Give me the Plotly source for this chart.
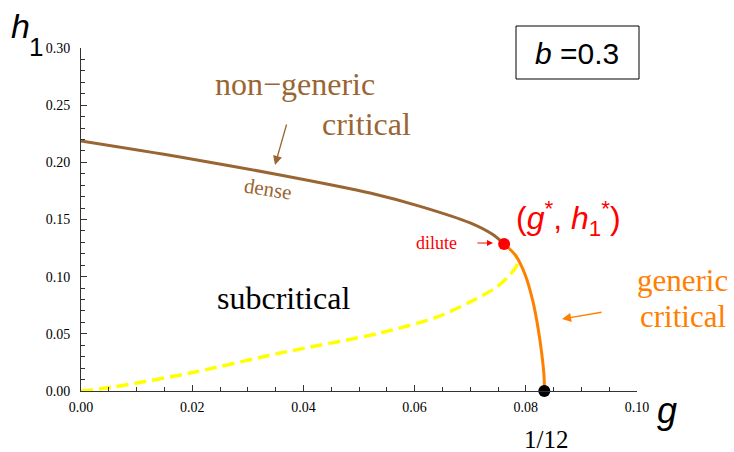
import plotly.graph_objects as go

# ---- data ----
dense_g = [0.0, 0.0178, 0.0358, 0.0520, 0.0610, 0.0700, 0.0740, 0.0761]
dense_h = [0.2187, 0.2047, 0.1890, 0.1732, 0.1615, 0.1470, 0.1370, 0.1286]

generic_g = [0.0761, 0.0781, 0.0799, 0.0813, 0.0822, 0.0829, 0.0833, 1 / 12]
generic_h = [0.1286, 0.1190, 0.1015, 0.0779, 0.0551, 0.0315, 0.0114, 0.0]

sub_g = [0.0, 0.0058, 0.0196, 0.0358, 0.0538, 0.0640, 0.0700, 0.0748, 0.0772, 0.0783, 0.0785, 0.0782]
sub_h = [0.0, 0.0035, 0.0157, 0.0332, 0.0507, 0.0647, 0.0779, 0.0910, 0.1020, 0.1090, 0.1140, 0.1185]

tri_g = [0.0761]
tri_h = [0.1286]
end_g = [1 / 12]
end_h = [0.0]

x_ticks = [0.00, 0.02, 0.04, 0.06, 0.08, 0.10]
x_ticklabels = ["0.00", "0.02", "0.04", "0.06", "0.08", "0.10"]
y_ticks = [0.00, 0.05, 0.10, 0.15, 0.20, 0.25, 0.30]
y_ticklabels = ["0.00", "0.05", "0.10", "0.15", "0.20", "0.25", "0.30"]

BROWN = "#996633"
ORANGE = "#FF8000"
YELLOW = "#FFFF00"
RED = "#FF0000"
SERIF = "Liberation Serif, Times New Roman, serif"
SANS = "Liberation Sans, Arial, sans-serif"

W, H = 734, 452
L, R, T, B = 81, 97, 48, 61
PW, PH = W - L - R, H - T - B


def px(x):
    return (x - L) / PW


def py(y):
    return (H - B - y) / PH


fig = go.Figure()
fig.add_trace(go.Scatter(x=sub_g, y=sub_h, mode="lines",
                         line=dict(color=YELLOW, width=3.5, dash="12px,6px", shape="spline", smoothing=0.8),
                         hoverinfo="skip"))
fig.add_trace(go.Scatter(x=dense_g, y=dense_h, mode="lines",
                         line=dict(color=BROWN, width=3, shape="spline", smoothing=0.8), hoverinfo="skip"))
fig.add_trace(go.Scatter(x=generic_g, y=generic_h, mode="lines",
                         line=dict(color=ORANGE, width=3, shape="spline", smoothing=0.8), hoverinfo="skip"))
fig.add_trace(go.Scatter(x=tri_g, y=tri_h, mode="markers",
                         marker=dict(color=RED, size=12), cliponaxis=False, hoverinfo="skip"))
fig.add_trace(go.Scatter(x=end_g, y=end_h, mode="markers",
                         marker=dict(color="black", size=12), cliponaxis=False, hoverinfo="skip"))

axis_common = dict(showgrid=False, zeroline=False, showline=True, linecolor="#333333",
                   linewidth=1, ticks="inside", ticklen=6, tickcolor="#333333", tickwidth=1,
                   tickfont=dict(family=SERIF, size=14, color="black"), automargin=False)

fig.update_xaxes(range=[0, 0.1], tickvals=x_ticks, ticktext=x_ticklabels,
                 minor=dict(dtick=0.005, ticks="inside", ticklen=4, tickcolor="#333333"),
                 ticklabelstandoff=3, **axis_common)
fig.update_yaxes(range=[0, 0.3], tickvals=y_ticks, ticktext=y_ticklabels,
                 minor=dict(dtick=0.01, ticks="inside", ticklen=4, tickcolor="#333333"),
                 ticklabelstandoff=7, **axis_common)

ann = []


def text(x, y, s, size, color="black", family=SERIF, angle=0, xanchor="center"):
    ann.append(dict(x=px(x), y=py(y), xref="paper", yref="paper", text=s, showarrow=False,
                    font=dict(family=family, size=size, color=color), textangle=angle,
                    xanchor=xanchor, yanchor="middle"))


def arrow(x0, y0, x1, y1, color, width=1.2, size=1.2):
    ann.append(dict(x=px(x1), y=py(y1), xref="paper", yref="paper", ax=x0 - x1, ay=y0 - y1,
                    text="", showarrow=True, arrowhead=2, arrowsize=size, arrowwidth=width,
                    arrowcolor=color, standoff=0))


text(20, 26, "<i>h</i>", 34, family=SANS)
text(36, 47, "1", 26, family=SANS)
text(667, 410, "<i>g</i>", 36, family=SANS)
text(546, 439, "1/12", 25)

text(295, 84, "non\u2212generic", 32, BROWN)
text(413, 124, "critical", 32, BROWN, xanchor="right")
text(268, 189, "dense", 21, BROWN, angle=9)
arrow(287, 123, 275, 165, BROWN, width=1.3, size=1.4)

text(436, 243, "dilute", 18, RED)
arrow(476, 243, 493, 243, RED, width=1, size=1.2)
text(568, 219, "(<i>g</i><sup>*</sup>, <i>h</i><sub>1</sub><sup>*</sup>)", 32, RED, family=SANS)

text(730, 280, "generic", 31, ORANGE, xanchor="right")
text(728, 316, "critical", 31, ORANGE, xanchor="right")
arrow(603, 312, 562, 319, ORANGE, width=1.3, size=1.4)

text(283, 298, "subcritical", 32)

text(577, 53, "<i>b</i> =0.3", 30, family=SANS)

fig.update_layout(
    width=W, height=H, margin=dict(l=L, r=R, t=T, b=B),
    plot_bgcolor="white", paper_bgcolor="white", showlegend=False,
    annotations=ann,
    shapes=[dict(type="rect", xref="paper", yref="paper", x0=px(516), x1=px(639),
                 y0=py(79), y1=py(26), line=dict(color="black", width=1))],
)

fig.write_html("out.html", config={"displayModeBar": False},
               post_script="document.body.style.margin='0';document.body.style.padding='0';")
